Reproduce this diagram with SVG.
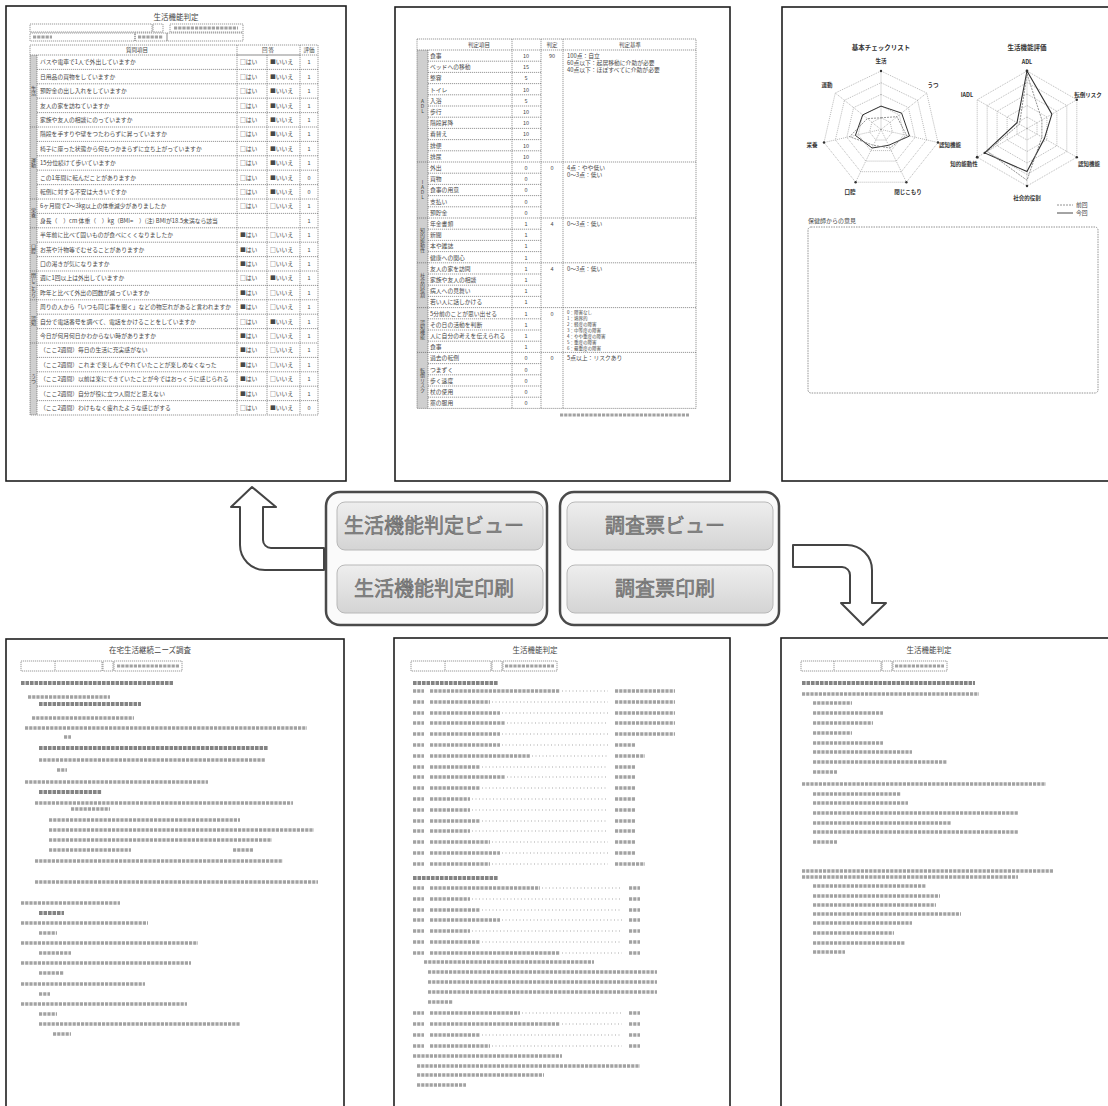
<svg xmlns="http://www.w3.org/2000/svg" width="1108" height="1106" viewBox="0 0 1108 1106">
<defs>
<linearGradient id="btn" x1="0" y1="0" x2="0" y2="1"><stop offset="0" stop-color="#eeeeee"/><stop offset="1" stop-color="#d4d4d4"/></linearGradient>
<style>
.pg{fill:#fff;stroke:#1e1e1e;stroke-width:1.6}
.ttl{font-size:7.5px;fill:#444;text-anchor:middle;font-family:"Noto Sans CJK JP",sans-serif}
.q{font-size:5.8px;fill:#484848;font-family:"Noto Sans CJK JP",sans-serif}
.s{font-size:5.5px;fill:#484848;font-family:"Noto Sans CJK JP",sans-serif;text-anchor:middle}
.v{font-size:5px;fill:#444;font-family:"Noto Sans CJK JP",sans-serif;text-anchor:middle;writing-mode:vertical-rl;text-orientation:upright}
.dl{fill:none;stroke:#555;stroke-width:0.6;stroke-dasharray:1.2 0.8}
.strip{fill:#cfcfcf}
.tl{fill:none;stroke:#a2a2a2;stroke-width:3.6;stroke-dasharray:3.2 1}
.tb{fill:none;stroke:#848484;stroke-width:4;stroke-dasharray:3.6 0.9}
.ld{fill:none;stroke:#aaa;stroke-width:1.1;stroke-dasharray:1 2.5}
.grid{fill:none;stroke:#8a8a8a;stroke-width:0.6;stroke-dasharray:1 1}
.lab{font-size:5.5px;fill:#333;font-weight:bold;font-family:"Noto Sans CJK JP",sans-serif;text-anchor:middle}
.grp{fill:#fafafa;stroke:#4a4a4a;stroke-width:2.5}
.b{fill:url(#btn);stroke:#b8b8b8;stroke-width:1}
.bt{font-size:20px;fill:#8a8a8a;stroke:#5e5e5e;stroke-width:0.5;text-anchor:middle;font-family:"Noto Sans CJK JP",sans-serif}
.arr{fill:#fff;stroke:#444;stroke-width:2;stroke-linejoin:round}
</style>
</defs>
<rect width="1108" height="1106" fill="#fff"/>

<!-- Page 1: checklist -->
<g id="page1">
<rect class="pg" x="6" y="6" width="340" height="475"/>
<text class="ttl" x="176" y="20">生活機能判定</text>
<rect class="dl" x="30" y="24" width="122" height="8"/>
<rect class="dl" x="153" y="24" width="10" height="8"/>
<rect class="dl" x="170" y="24" width="73" height="8"/>
<rect class="dl" x="30" y="33" width="105" height="8"/>
<rect class="dl" x="135" y="33" width="32" height="8"/>
<rect class="dl" x="167" y="33" width="76" height="8"/>
<path class="tl" style="stroke-width:3" d="M174 28H238M33 37H52M138 37H163"/>
<rect class="strip" x="30" y="55" width="7" height="360"/>
<rect class="dl" x="30" y="45" width="288" height="370"/>
<path class="dl" d="M37 55V415M237 45V415M267 55V415M300 45V415M237 55H300"/>
<path class="dl" d="M30 55H318M37 69.4H318M37 83.8H318M37 98.2H318M37 112.6H318M30 127H318M37 141.4H318M37 155.8H318M37 170.2H318M37 184.6H318M30 199H318M37 213.4H318M30 227.8H318M37 242.2H318M37 256.6H318M30 271H318M37 285.4H318M30 299.8H318M37 314.2H318M37 328.6H318M30 343H318M37 357.4H318M37 371.8H318M37 386.2H318M37 400.6H318"/>
<text class="s" x="137" y="52">質問項目</text>
<text class="s" x="268" y="52">回 答</text>
<text class="s" x="309" y="52">評価</text>
<text class="v" x="33.5" y="91">生活</text>
<text class="v" x="33.5" y="163">運動</text>
<text class="v" x="33.5" y="213">栄養</text>
<text class="v" x="33.5" y="249">口腔</text>
<text class="v" x="33.5" y="285">閉じこもり</text>
<text class="v" x="33.5" y="321">認知</text>
<text class="v" x="33.5" y="379">うつ</text>
<g class="q">
<text x="40" y="64.4">バスや電車で1人で外出していますか</text>
<text x="40" y="78.8">日用品の買物をしていますか</text>
<text x="40" y="93.2">預貯金の出し入れをしていますか</text>
<text x="40" y="107.6">友人の家を訪ねていますか</text>
<text x="40" y="122">家族や友人の相談にのっていますか</text>
<text x="40" y="136.4">階段を手すりや壁をつたわらずに昇っていますか</text>
<text x="40" y="150.8">椅子に座った状態から何もつかまらずに立ち上がっていますか</text>
<text x="40" y="165.2">15分位続けて歩いていますか</text>
<text x="40" y="179.6">この1年間に転んだことがありますか</text>
<text x="40" y="194">転倒に対する不安は大きいですか</text>
<text x="40" y="208.4">6ヶ月間で2～3kg以上の体重減少がありましたか</text>
<text x="40" y="222.8">身長（　）cm 体重（　）kg（BMI=　）(注) BMIが18.5未満なら該当</text>
<text x="40" y="237.2">半年前に比べて固いものが食べにくくなりましたか</text>
<text x="40" y="251.6">お茶や汁物等でむせることがありますか</text>
<text x="40" y="266">口の渇きが気になりますか</text>
<text x="40" y="280.4">週に1回以上は外出していますか</text>
<text x="40" y="294.8">昨年と比べて外出の回数が減っていますか</text>
<text x="40" y="309.2">周りの人から「いつも同じ事を聞く」などの物忘れがあると言われますか</text>
<text x="40" y="323.6">自分で電話番号を調べて、電話をかけることをしていますか</text>
<text x="40" y="338">今日が何月何日かわからない時がありますか</text>
<text x="40" y="352.4">（ここ2週間）毎日の生活に充実感がない</text>
<text x="40" y="366.8">（ここ2週間）これまで楽しんでやれていたことが楽しめなくなった</text>
<text x="40" y="381.2">（ここ2週間）以前は楽にできていたことが今ではおっくうに感じられる</text>
<text x="40" y="395.6">（ここ2週間）自分が役に立つ人間だと思えない</text>
<text x="40" y="410">（ここ2週間）わけもなく疲れたような感じがする</text>
</g>
<g class="q">
<text x="240" y="64.4">□はい</text><text x="270" y="64.4">■いいえ</text>
<text x="240" y="78.8">□はい</text><text x="270" y="78.8">■いいえ</text>
<text x="240" y="93.2">□はい</text><text x="270" y="93.2">■いいえ</text>
<text x="240" y="107.6">□はい</text><text x="270" y="107.6">■いいえ</text>
<text x="240" y="122">□はい</text><text x="270" y="122">■いいえ</text>
<text x="240" y="136.4">□はい</text><text x="270" y="136.4">■いいえ</text>
<text x="240" y="150.8">□はい</text><text x="270" y="150.8">■いいえ</text>
<text x="240" y="165.2">□はい</text><text x="270" y="165.2">■いいえ</text>
<text x="240" y="179.6">□はい</text><text x="270" y="179.6">■いいえ</text>
<text x="240" y="194">□はい</text><text x="270" y="194">■いいえ</text>
<text x="240" y="208.4">□はい</text><text x="270" y="208.4">□いいえ</text>
<text x="240" y="237.2">■はい</text><text x="270" y="237.2">□いいえ</text>
<text x="240" y="251.6">■はい</text><text x="270" y="251.6">□いいえ</text>
<text x="240" y="266">■はい</text><text x="270" y="266">□いいえ</text>
<text x="240" y="280.4">□はい</text><text x="270" y="280.4">■いいえ</text>
<text x="240" y="294.8">■はい</text><text x="270" y="294.8">□いいえ</text>
<text x="240" y="309.2">■はい</text><text x="270" y="309.2">□いいえ</text>
<text x="240" y="323.6">□はい</text><text x="270" y="323.6">■いいえ</text>
<text x="240" y="338">■はい</text><text x="270" y="338">□いいえ</text>
<text x="240" y="352.4">■はい</text><text x="270" y="352.4">□いいえ</text>
<text x="240" y="366.8">■はい</text><text x="270" y="366.8">□いいえ</text>
<text x="240" y="381.2">■はい</text><text x="270" y="381.2">□いいえ</text>
<text x="240" y="395.6">■はい</text><text x="270" y="395.6">□いいえ</text>
<text x="240" y="410">□はい</text><text x="270" y="410">■いいえ</text>
</g>
<g class="s">
<text x="309" y="64.4">1</text><text x="309" y="78.8">1</text><text x="309" y="93.2">1</text><text x="309" y="107.6">1</text><text x="309" y="122">1</text>
<text x="309" y="136.4">1</text><text x="309" y="150.8">1</text><text x="309" y="165.2">1</text><text x="309" y="179.6">0</text><text x="309" y="194">0</text>
<text x="309" y="208.4">1</text><text x="309" y="222.8">1</text><text x="309" y="237.2">1</text><text x="309" y="251.6">1</text><text x="309" y="266">1</text>
<text x="309" y="280.4">1</text><text x="309" y="294.8">1</text><text x="309" y="309.2">1</text><text x="309" y="323.6">1</text><text x="309" y="338">1</text>
<text x="309" y="352.4">1</text><text x="309" y="366.8">1</text><text x="309" y="381.2">1</text><text x="309" y="395.6">1</text><text x="309" y="410">0</text>
</g>
</g>

<!-- Page 2: judgement table -->
<g id="page2">
<rect class="pg" x="395" y="7" width="335" height="474"/>
<rect class="strip" x="417" y="50" width="11" height="358.4"/>
<rect class="dl" x="417" y="39" width="279" height="369.4"/>
<path class="dl" d="M428 50V408.4M512 39V408.4M541 39V408.4M563 39V408.4M417 50H696"/>
<path class="dl" d="M428 61.2H541M428 72.4H541M428 83.6H541M428 94.8H541M428 106H541M428 117.2H541M428 128.4H541M428 139.6H541M428 150.8H541M417 162H696M428 173.2H541M428 184.4H541M428 195.6H541M428 206.8H541M417 218H696M428 229.2H541M428 240.4H541M428 251.6H541M417 262.8H696M428 274H541M428 285.2H541M428 296.4H541M417 307.6H696M428 318.8H541M428 330H541M428 341.2H541M417 352.4H696M428 363.6H541M428 374.8H541M428 386H541M428 397.2H541"/>
<text class="s" x="479" y="47">判定項目</text>
<text class="s" x="552" y="47">判定</text>
<text class="s" x="630" y="47">判定基準</text>
<text class="v" x="422.5" y="106">ADL</text>
<text class="v" x="422.5" y="190">IADL</text>
<text class="v" x="422.5" y="240.4">知的能動性</text>
<text class="v" x="422.5" y="285.2">社会的役割</text>
<text class="v" x="422.5" y="330">認知機能</text>
<text class="v" x="422.5" y="380.4">転倒リスク</text>
<g class="q">
<text x="430" y="58">食事</text>
<text x="430" y="69.2">ベッドへの移動</text>
<text x="430" y="80.4">整容</text>
<text x="430" y="91.6">トイレ</text>
<text x="430" y="102.8">入浴</text>
<text x="430" y="114">歩行</text>
<text x="430" y="125.2">階段昇降</text>
<text x="430" y="136.4">着替え</text>
<text x="430" y="147.6">排便</text>
<text x="430" y="158.8">排尿</text>
<text x="430" y="170">外出</text>
<text x="430" y="181.2">買物</text>
<text x="430" y="192.4">食事の用意</text>
<text x="430" y="203.6">支払い</text>
<text x="430" y="214.8">預貯金</text>
<text x="430" y="226">年金書類</text>
<text x="430" y="237.2">新聞</text>
<text x="430" y="248.4">本や雑誌</text>
<text x="430" y="259.6">健康への関心</text>
<text x="430" y="270.8">友人の家を訪問</text>
<text x="430" y="282">家族や友人の相談</text>
<text x="430" y="293.2">病人への見舞い</text>
<text x="430" y="304.4">若い人に話しかける</text>
<text x="430" y="315.6">5分前のことが思い出せる</text>
<text x="430" y="326.8">その日の活動を判断</text>
<text x="430" y="338">人に自分の考えを伝えられる</text>
<text x="430" y="349.2">食事</text>
<text x="430" y="360.4">過去の転倒</text>
<text x="430" y="371.6">つまずく</text>
<text x="430" y="382.8">歩く速度</text>
<text x="430" y="394">杖の使用</text>
<text x="430" y="405.2">薬の服用</text>
</g>
<g class="s">
<text x="526" y="58">10</text><text x="526" y="69.2">15</text><text x="526" y="80.4">5</text><text x="526" y="91.6">10</text><text x="526" y="102.8">5</text>
<text x="526" y="114">10</text><text x="526" y="125.2">10</text><text x="526" y="136.4">10</text><text x="526" y="147.6">10</text><text x="526" y="158.8">10</text>
<text x="526" y="170">0</text><text x="526" y="181.2">0</text><text x="526" y="192.4">0</text><text x="526" y="203.6">0</text><text x="526" y="214.8">0</text>
<text x="526" y="226">1</text><text x="526" y="237.2">1</text><text x="526" y="248.4">1</text><text x="526" y="259.6">1</text>
<text x="526" y="270.8">1</text><text x="526" y="282">1</text><text x="526" y="293.2">1</text><text x="526" y="304.4">1</text>
<text x="526" y="315.6">1</text><text x="526" y="326.8">1</text><text x="526" y="338">1</text><text x="526" y="349.2">1</text>
<text x="526" y="360.4">0</text><text x="526" y="371.6">0</text><text x="526" y="382.8">0</text><text x="526" y="394">0</text><text x="526" y="405.2">0</text>
<text x="552" y="58">90</text><text x="552" y="170">0</text><text x="552" y="226">4</text><text x="552" y="270.8">4</text><text x="552" y="315.6">0</text><text x="552" y="360.4">0</text>
</g>
<g class="q">
<text x="567" y="58">100点：自立</text>
<text x="567" y="65">60点以下：起居移動に介助が必要</text>
<text x="567" y="72">40点以下：ほぼすべてに介助が必要</text>
<text x="567" y="170">4点：やや低い</text>
<text x="567" y="177">0～3点：低い</text>
<text x="567" y="226">0～3点：低い</text>
<text x="567" y="270.8">0～3点：低い</text>
<text x="567" y="360.4">5点以上：リスクあり</text>
</g>
<g class="q" style="font-size:4.5px">
<text x="567" y="314">0：障害なし</text>
<text x="567" y="320">1：境界的</text>
<text x="567" y="326">2：軽度の障害</text>
<text x="567" y="332">3：中等度の障害</text>
<text x="567" y="338">4：やや重度の障害</text>
<text x="567" y="344">5：重度の障害</text>
<text x="567" y="350">6：最重度の障害</text>
</g>
<path class="tl" style="stroke-width:3" d="M560 415H689"/>
</g>

<!-- Page 3: radar charts -->
<g id="page3">
<rect class="pg" x="782" y="7" width="340" height="474"/>
<text class="lab" x="881" y="50" style="font-size:6.5px">基本チェックリスト</text>
<text class="lab" x="1027" y="50" style="font-size:6.5px">生活機能評価</text>
<g class="grid">
<polygon points="881,71 926.7,93 938,142.5 906.4,182.2 855.6,182.2 824,142.5 835.3,93"/>
<polygon points="881,82.7 917.6,100.3 926.6,139.9 901.3,171.7 860.7,171.7 835.4,139.9 844.4,100.3"/>
<polygon points="881,94.4 908.4,107.6 915.2,137.3 896.2,161.1 865.8,161.1 846.8,137.3 853.6,107.6"/>
<polygon points="881,106.1 899.3,114.9 903.8,134.7 891.2,150.6 870.8,150.6 858.2,134.7 862.7,114.9"/>
<polygon points="881,117.8 890.1,122.2 892.4,132.1 886.1,140 875.9,140 869.6,132.1 871.9,122.2"/>
<path d="M881 129.5L881 71M881 129.5L926.7 93M881 129.5L938 142.5M881 129.5L906.4 182.2M881 129.5L855.6 182.2M881 129.5L824 142.5M881 129.5L835.3 93"/>
<polygon points="1027,71 1076.8,99.75 1076.8,157.25 1027,186 977.2,157.25 977.2,99.75"/>
<polygon points="1027,82.5 1066.8,105.5 1066.8,151.5 1027,174.5 987.2,151.5 987.2,105.5"/>
<polygon points="1027,94 1056.9,111.25 1056.9,145.75 1027,163 997.1,145.75 997.1,111.25"/>
<polygon points="1027,105.5 1046.9,117 1046.9,140 1027,151.5 1007.1,140 1007.1,117"/>
<polygon points="1027,117 1037,122.75 1037,134.25 1027,140 1017,134.25 1017,122.75"/>
<path d="M1027 128.5L1027 71M1027 128.5L1076.8 99.75M1027 128.5L1076.8 157.25M1027 128.5L1027 186M1027 128.5L977.2 157.25M1027 128.5L977.2 99.75"/>
</g>
<polygon points="881,106.1 901.6,113.1 909.5,136 888.6,145.3 872.1,148 855.4,135.4 862.7,114.9" fill="none" stroke="#333" stroke-width="1"/>
<polygon points="881,117.8 897,116.7 906.6,135.4 889.9,148 873.4,145.3 849.6,136.7 867.3,118.6" fill="none" stroke="#777" stroke-width="0.8" stroke-dasharray="2 1"/>
<polygon points="1027,71 1051.9,114.1 1044.4,138.6 1027,171.6 984.7,152.9 1017,122.75" fill="none" stroke="#333" stroke-width="1.1"/>
<polygon points="1027,73.9 1041.9,119.9 1041.9,137.1 1027,180.25 987.2,151.5 1019.5,124.2" fill="none" stroke="#777" stroke-width="0.8" stroke-dasharray="2 1"/>
<g fill="#333">
<circle cx="881" cy="71" r="1.2"/><circle cx="938" cy="142.5" r="1.2"/><circle cx="824" cy="142.5" r="1.2"/><circle cx="855.6" cy="182.2" r="1.2"/><circle cx="906.4" cy="182.2" r="1.2"/>
<circle cx="1027" cy="71" r="1.4"/><circle cx="1076.8" cy="99.75" r="1.2"/><circle cx="1076.8" cy="157.25" r="1.2"/><circle cx="1027" cy="186" r="1.2"/><circle cx="977.2" cy="157.25" r="1.4"/><circle cx="984.7" cy="152.9" r="1.2"/>
</g>
<text class="lab" x="881" y="63">生活</text>
<text class="lab" x="827" y="87">運動</text>
<text class="lab" x="812" y="147">栄養</text>
<text class="lab" x="850" y="194">口腔</text>
<text class="lab" x="908" y="194">閉じこもり</text>
<text class="lab" x="950" y="147">認知機能</text>
<text class="lab" x="933" y="87">うつ</text>
<text class="lab" x="1027" y="64">ADL</text>
<text class="lab" x="967" y="97">IADL</text>
<text class="lab" x="964" y="166">知的能動性</text>
<text class="lab" x="1027" y="200">社会的役割</text>
<text class="lab" x="1089" y="166">認知機能</text>
<text class="lab" x="1088" y="97">転倒リスク</text>
<path d="M1057 205H1073" stroke="#777" stroke-width="0.8" stroke-dasharray="2 1"/>
<path d="M1057 213H1073" stroke="#333" stroke-width="0.9"/>
<text class="q" x="1076" y="207">前回</text>
<text class="q" x="1076" y="215">今回</text>
<text class="q" x="808" y="223" style="font-size:6px">保健師からの意見</text>
<rect x="808" y="227" width="290" height="166" rx="3" fill="none" stroke="#777" stroke-width="0.8" stroke-dasharray="1.5 1"/>
</g>

<!-- Page 4: survey -->
<g id="page4">
<rect class="pg" x="6" y="639" width="338" height="480"/>
<text class="ttl" x="150" y="653">在宅生活継続ニーズ調査</text>
<rect class="dl" x="21" y="661" width="81" height="10"/>
<path class="dl" d="M55 661V671"/>
<rect class="dl" x="103" y="661" width="10" height="10"/>
<rect class="dl" x="114" y="661" width="68" height="10"/>
<path class="tl" style="stroke-width:3" d="M117 666H179"/>
<path class="tb" d="M21 683H173M39 704H141M39 748H268M39 792H102M39 913H64"/>
<path class="tl" d="M28 697H110M32 718H134M25 728H307M64 737H71M39 760H265M57 770H67M25 782H208M35 803H293M71 809H110M49 820H240M49 830H314M49 840H272M49 850H131M233 850H254M35 861H283M35 882H318M21 903H120M21 923H148M39 933H57M21 943H198M39 953H71M21 963H191M39 973H64M21 984H145M39 994H50M21 1004H187M39 1014H57M39 1024H240M53 1034H71"/>
</g>

<!-- Page 5: survey -->
<g id="page5">
<rect class="pg" x="394" y="638" width="336" height="480"/>
<text class="ttl" x="535" y="653">生活機能判定</text>
<rect class="dl" x="411" y="661" width="80" height="10"/>
<path class="dl" d="M445 661V671"/>
<rect class="dl" x="492" y="661" width="10" height="10"/>
<rect class="dl" x="503" y="661" width="54" height="10"/>
<path class="tl" style="stroke-width:3" d="M505 666H554"/>
<path class="tb" d="M413 683H498M413 878H498"/>
<path class="tl" d="M413 691H424M430 691H560M615 691H675M413 702H424M430 702H490M615 702H675M413 713H424M430 713H500M615 713H675M413 723H424M430 723H505M615 723H675M413 734H424M430 734H500M615 734H675M413 745H424M430 745H500M615 745H636M413 756H424M430 756H530M615 756H645M413 767H424M430 767H480M615 767H636M413 777H424M430 777H505M615 777H636M413 788H424M430 788H480M615 788H636M413 799H424M430 799H470M615 799H636M413 810H424M430 810H470M615 810H636M413 821H424M430 821H480M615 821H636M413 831H424M430 831H470M615 831H636M413 842H424M430 842H490M615 842H636M413 853H424M430 853H500M615 853H636M413 864H424M430 864H490M615 864H645"/>
<path class="ld" d="M562 691H608M492 702H608M502 713H608M507 723H608M502 734H608M502 745H608M532 756H608M482 767H608M507 777H608M482 788H608M472 799H608M472 810H608M482 821H608M472 831H608M492 842H608M502 853H608M492 864H608"/>
<path class="tl" d="M413 888H424M430 888H540M629 888H640M413 899H424M430 899H470M629 899H640M413 910H424M430 910H480M629 910H640M413 920H424M430 920H500M629 920H640M413 931H424M430 931H470M629 931H640M413 942H424M430 942H480M629 942H640M413 953H424M430 953H560M629 953H640M424 962H594M428 972H657M428 982H657M428 992H657M428 1002H453M413 1013H424M430 1013H520M629 1013H640M413 1024H424M430 1024H560M629 1024H640M413 1035H424M430 1035H480M629 1035H640M413 1046H424M430 1046H490M629 1046H640M413 1056H562M417 1066H640M417 1075H544M417 1085H466"/>
<path class="ld" d="M542 888H622M472 899H622M482 910H622M502 920H622M472 931H622M482 942H622M562 953H622M522 1013H622M562 1024H622M482 1035H622M492 1046H622"/>
</g>

<!-- Page 6: survey -->
<g id="page6">
<rect class="pg" x="781" y="638" width="340" height="480"/>
<text class="ttl" x="929" y="653">生活機能判定</text>
<rect class="dl" x="801" y="661" width="80" height="10"/>
<path class="dl" d="M834 661V671"/>
<rect class="dl" x="882" y="661" width="10" height="10"/>
<rect class="dl" x="893" y="661" width="54" height="10"/>
<path class="tl" style="stroke-width:3" d="M895 666H944"/>
<path class="tb" d="M802 683H975"/>
<path class="tl" d="M802 694H979M813 703H852M813 713H883M813 723H873M813 733H852M813 743H883M813 752H912M813 762H947M813 772H837M802 784H1046M813 794H901M813 803H908M813 813H1018M813 823H951M813 832H1018M813 842H837M802 871H1053M802 877H1018M813 886H926M813 896H940M813 905H936M813 914H961M813 923H912M813 933H894M813 943H905M813 952H845"/>
</g>

<!-- Buttons -->
<g id="buttons-left">
<rect class="grp" x="326" y="492" width="221" height="133" rx="14"/>
<g id="btn-seikatsu-view"><rect class="b" x="337" y="502" width="206" height="48" rx="8"/><text class="bt" x="434" y="533">生活機能判定ビュー</text></g>
<g id="btn-seikatsu-print"><rect class="b" x="337" y="565" width="206" height="48" rx="8"/><text class="bt" x="434" y="596">生活機能判定印刷</text></g>
</g>
<g id="buttons-right">
<rect class="grp" x="560" y="492" width="219" height="133" rx="14"/>
<g id="btn-chosa-view"><rect class="b" x="567" y="502" width="206" height="48" rx="8"/><text class="bt" x="665" y="533">調査票ビュー</text></g>
<g id="btn-chosa-print"><rect class="b" x="567" y="565" width="206" height="48" rx="8"/><text class="bt" x="665" y="596">調査票印刷</text></g>
</g>

<!-- Connectors -->
<g id="connectors">
<path class="arr" d="M252 487L276 507H263V540A8 8 0 0 0 271 548H324V570H265A25 25 0 0 1 240 545V507H231Z"/>
<path class="arr" d="M793 545H847A25 25 0 0 1 872 570V603H886L863 625L841 603H850V575A8 8 0 0 0 842 567H793Z"/>
</g>
</svg>
